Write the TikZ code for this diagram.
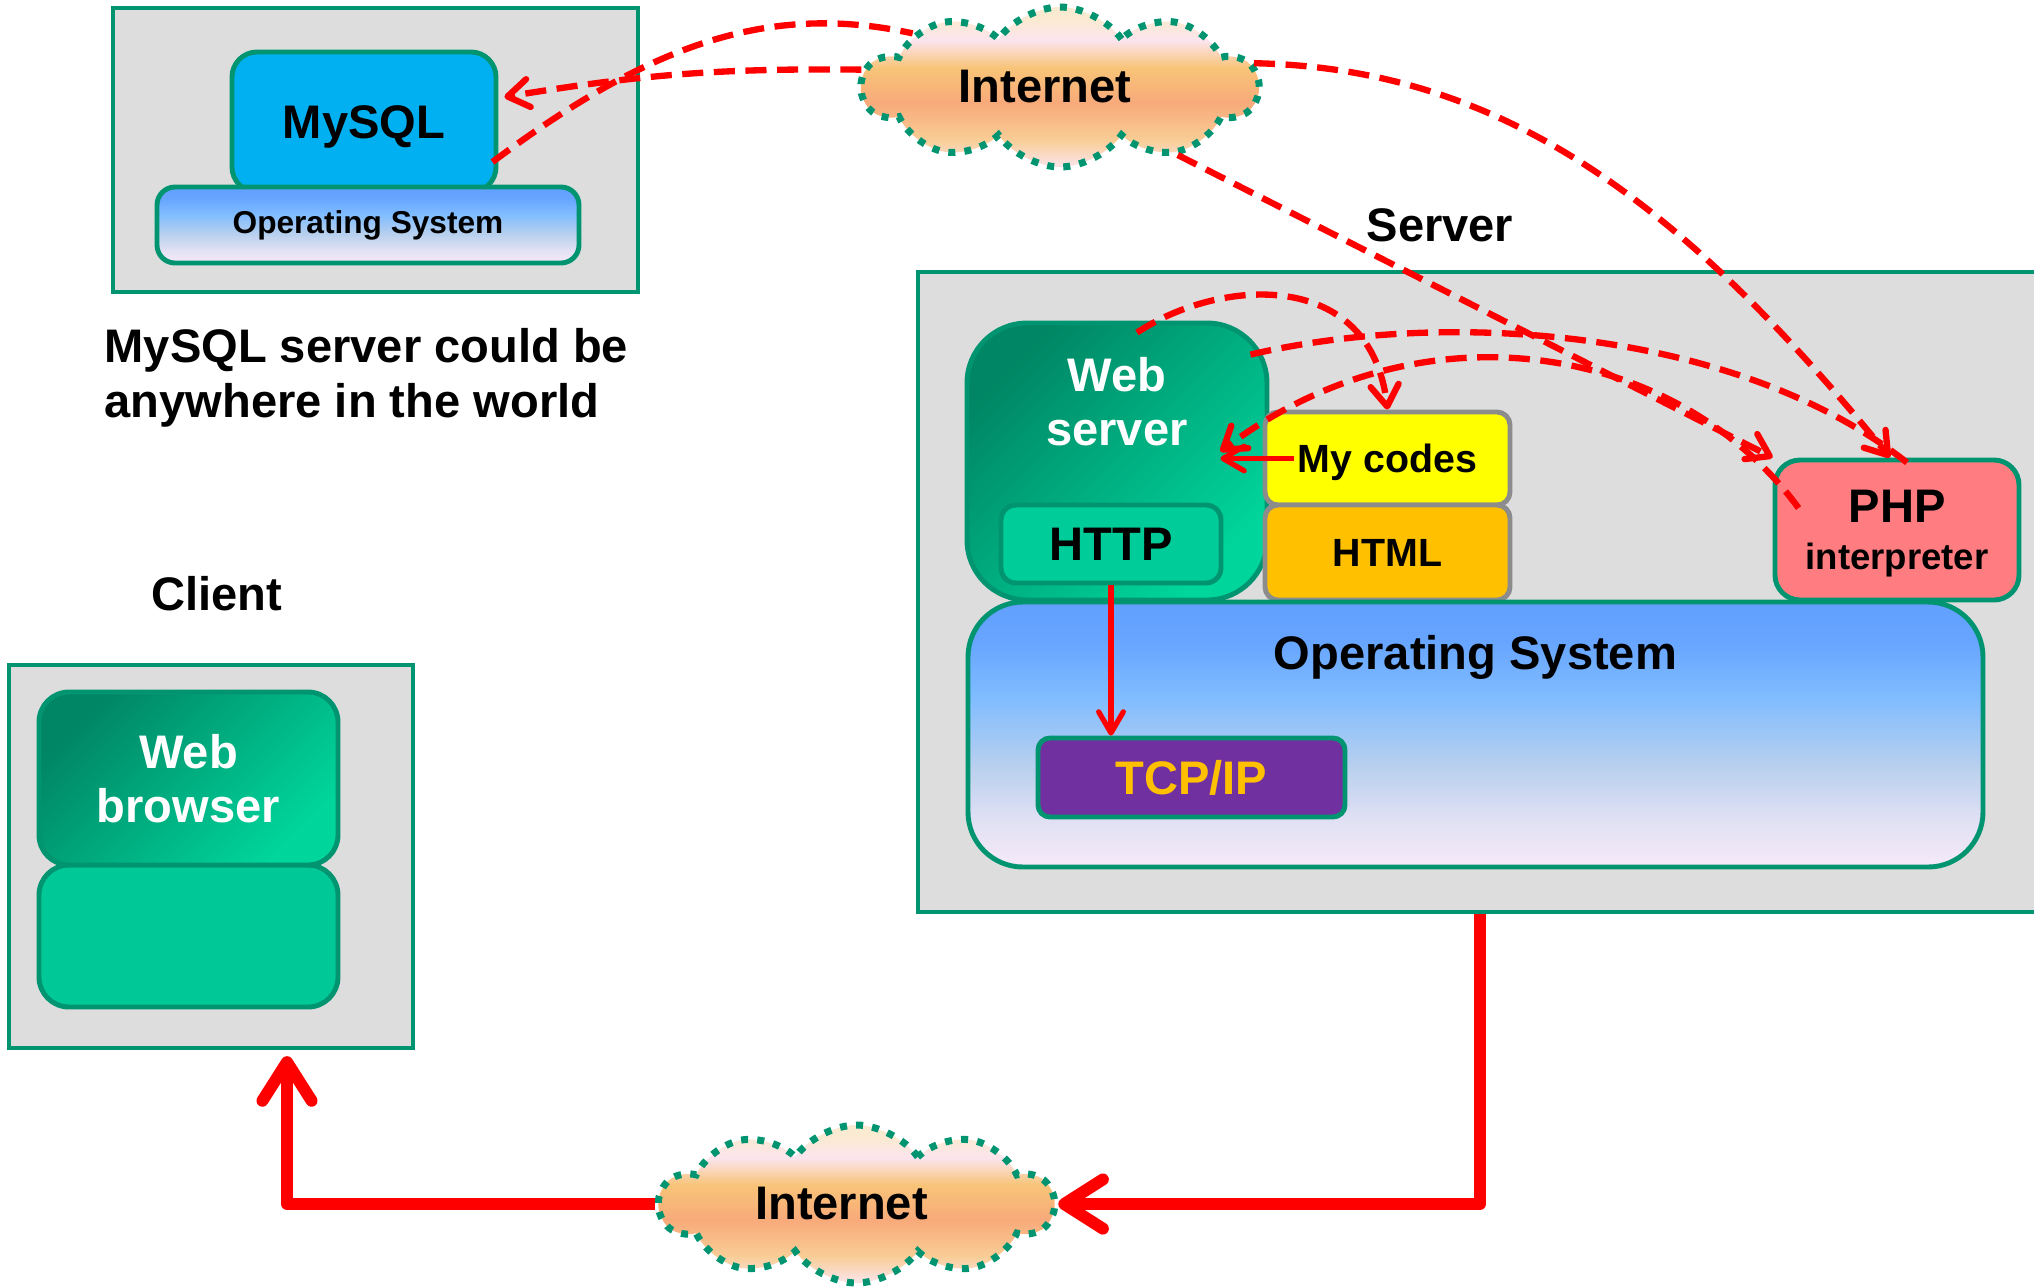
\documentclass[tikz,border=0pt]{standalone}
\usepackage{fontspec}
\setmainfont{Liberation Sans}
\usepackage{tikz}
\usetikzlibrary{shapes.symbols, arrows.meta, positioning, calc}

\definecolor{edge}{RGB}{0,148,112}
\definecolor{panel}{RGB}{221,221,221}
\definecolor{sqlblue}{RGB}{0,176,240}
\definecolor{osdeep}{RGB}{98,160,255}
\definecolor{osupper}{RGB}{102,164,255}
\definecolor{osmid}{RGB}{128,188,255}
\definecolor{oslower}{RGB}{184,208,238}
\definecolor{osfade}{RGB}{224,224,244}
\definecolor{oslight}{RGB}{246,234,248}
\definecolor{wsdark}{RGB}{0,134,100}
\definecolor{wslight}{RGB}{0,214,156}
\definecolor{httpfill}{RGB}{0,204,153}
\definecolor{basefill}{RGB}{0,200,150}
\definecolor{codeyellow}{RGB}{255,255,0}
\definecolor{htmlorange}{RGB}{255,192,0}
\definecolor{phpred}{RGB}{255,124,128}
\definecolor{tcppurple}{RGB}{112,48,160}
\definecolor{greyedge}{RGB}{140,140,140}
\definecolor{linkred}{RGB}{255,0,0}
\definecolor{cla}{RGB}{251,234,210}
\definecolor{clb}{RGB}{252,228,238}
\definecolor{clc}{RGB}{248,196,120}
\definecolor{cld}{RGB}{248,170,122}
\definecolor{cle}{RGB}{249,205,150}
\definecolor{clf}{RGB}{251,226,226}

\pgfdeclareverticalshading{osshade}{100bp}{color(0bp)=(oslight); color(25bp)=(oslight);
  color(34bp)=(osfade); color(44bp)=(oslower); color(57bp)=(osmid); color(68bp)=(osupper);
  color(75bp)=(osdeep); color(100bp)=(osdeep)}
\pgfdeclareverticalshading{cloudshade}{100bp}{color(0bp)=(clf); color(26bp)=(clf);
  color(33.5bp)=(cle); color(45bp)=(cld); color(56bp)=(clc); color(64.5bp)=(clb);
  color(71bp)=(cla); color(100bp)=(cla)}

\newcommand{\bigbold}{\fontsize{13.4pt}{15.5pt}\selectfont\bfseries}
\newcommand{\midbold}{\fontsize{11.2pt}{13pt}\selectfont\bfseries}
\newcommand{\smallbold}{\fontsize{9pt}{11pt}\selectfont\bfseries}
\newcommand{\phpsub}{\fontsize{10.4pt}{12pt}\selectfont\bfseries}

\begin{document}
\begin{tikzpicture}[
  frame/.style={draw=edge, line width=1.2pt, fill=panel, inner sep=0pt},
  tile/.style={draw=edge, line width=1.4pt, rounded corners=2.5mm, inner sep=0pt,
               font=\bigbold, align=center, text depth=0pt},
  greytile/.style={tile, draw=greyedge, rounded corners=1.3mm, font=\midbold},
  netcloud/.style={cloud, cloud puffs=10, cloud puff arc=110, cloud ignores aspect,
                   draw=edge, line width=2pt, dash pattern=on 2pt off 2.6pt,
                   shading=cloudshade, font=\bigbold, inner sep=0pt},
  heading/.style={font=\bigbold, inner sep=0pt},
  dashline/.style={draw=linkred, line width=1.8pt, dash pattern=on 6pt off 3pt},
  dasharr/.style={dashline, -{Straight Barb[round, length=6pt, width=8pt]}},
  thinarr/.style={draw=linkred, line width=1.5pt, -{Straight Barb[round, length=6pt, width=7pt]}},
  bigarr/.style={draw=linkred, line width=3.4pt, line join=round,
                 -{Straight Barb[round, length=11pt, width=14pt]}},
]
\useasboundingbox (0,0) rectangle (20.34,-12.86);

% database host
\node[frame, minimum width=5.25cm, minimum height=2.84cm] (dbhost) at (3.755,-1.50) {};
\node[tile, fill=sqlblue, minimum width=2.64cm, minimum height=1.40cm] (mysql) at (3.64,-1.22) {MySQL};
\node[tile, shading=osshade, rounded corners=1.8mm, font=\smallbold, text depth=1.9pt,
      minimum width=4.22cm, minimum height=0.76cm] (dbos) at (3.68,-2.25) {Operating System};
\node[heading, anchor=west, align=left] (dbnote) at (1.04,-3.78) {MySQL server could be\\anywhere in the world};

\node[netcloud, minimum width=3.95cm, minimum height=1.60cm] (inettop) at (10.60,-0.87) {Internet\hspace*{3mm}};

% server
\node[heading, anchor=base] (srvlabel) at (14.40,-2.41) {Server};
\node[frame, minimum width=11.24cm, minimum height=6.40cm] (server) at (14.80,-5.92) {};
\node[tile, rounded corners=6mm, top color=wsdark, bottom color=wslight, shading angle=45,
      minimum width=3.00cm, minimum height=2.77cm] (websrv) at (11.17,-4.615) {};
\node[heading, text=white, align=center, below=3.6mm of websrv.north] (wstext) {Web\\server};
\node[tile, fill=httpfill, rounded corners=1.5mm, minimum width=2.20cm, minimum height=0.78cm] (http) at (11.11,-5.44) {HTTP};
\node[greytile, fill=codeyellow, minimum width=2.45cm, minimum height=0.93cm] (mycodes) at (13.875,-4.585) {My codes};
\node[greytile, fill=htmlorange, minimum width=2.45cm, minimum height=0.95cm] (html) at (13.875,-5.525) {HTML};
\node[tile, fill=phpred, minimum width=2.44cm, minimum height=1.40cm] (php) at (18.97,-5.30)
  {PHP\\[-2pt]\phpsub interpreter};
\node[tile, shading=osshade, rounded corners=5.5mm, minimum width=10.15cm, minimum height=2.65cm] (hostos) at (14.755,-7.345) {};
\node[heading, below=3.5mm of hostos.north] (ostext) {Operating System};
\node[tile, fill=tcppurple, text=htmlorange, rounded corners=1.2mm,
      minimum width=3.07cm, minimum height=0.79cm] (tcpip) at (11.915,-7.775) {TCP/IP};

% client
\node[heading, anchor=base] (clientlabel) at (2.17,-6.10) {Client};
\node[frame, minimum width=4.04cm, minimum height=3.83cm] (client) at (2.11,-8.565) {};
\node[tile, fill=basefill, rounded corners=3mm, minimum width=2.99cm, minimum height=1.42cm] (browserbase) at (1.885,-9.36) {};
\node[tile, rounded corners=3mm, top color=wsdark, bottom color=wslight, shading angle=45, text=white,
      minimum width=2.99cm, minimum height=1.73cm] (browser) at (1.885,-7.785) {Web\\browser};

\node[netcloud, minimum width=3.93cm, minimum height=1.58cm] (inetbot) at (8.565,-12.04) {Internet\hspace*{3mm}};

% response path
\draw[bigarr] (server.south) |- (inetbot.east);
\draw[bigarr] (inetbot.west) -| ([xshift=7.6mm,yshift=-0.6mm]client.south);

% inside the server
\draw[thinarr] (http.south) -- (http.south |- tcpip.north);
\draw[thinarr] ([xshift=3.1mm]mycodes.west) -- ([xshift=-4.9mm]websrv.east |- mycodes.west);

% dashed flows
\draw[dasharr] (inettop.175) to[bend right=5] ([xshift=0.6mm,yshift=2.5mm]mysql.east);
\draw[dashline] ([xshift=-0.6mm,yshift=-4mm]mysql.east) .. controls +(1.5,1.12) and +(-1.5,0.33) .. (inettop.160);
\draw[dasharr] (inettop.7) .. controls +(2.48,-0.05) and +(-2.1,2.57) .. ([xshift=-0.7mm]php.north);
\draw[dasharr] (inettop.330) -- (php.north west);
\draw[dasharr] ([xshift=2mm,yshift=-1.2mm]websrv.north) .. controls +(0.83,0.55) and +(-0.17,1.42) .. (mycodes.north);
\draw[dashline] ([xshift=-1.9mm,yshift=-3.4mm]websrv.north east) .. controls +(2.02,0.47) and +(-1.67,1.32) .. ([xshift=1mm,yshift=-0.5mm]php.north);
\draw[dasharr] ([xshift=2.6mm,yshift=2.2mm]php.west) .. controls +(-1.21,1.65) and +(2.01,1.52) .. ([xshift=-4.9mm,yshift=1mm]websrv.east);
\end{tikzpicture}
\end{document}
